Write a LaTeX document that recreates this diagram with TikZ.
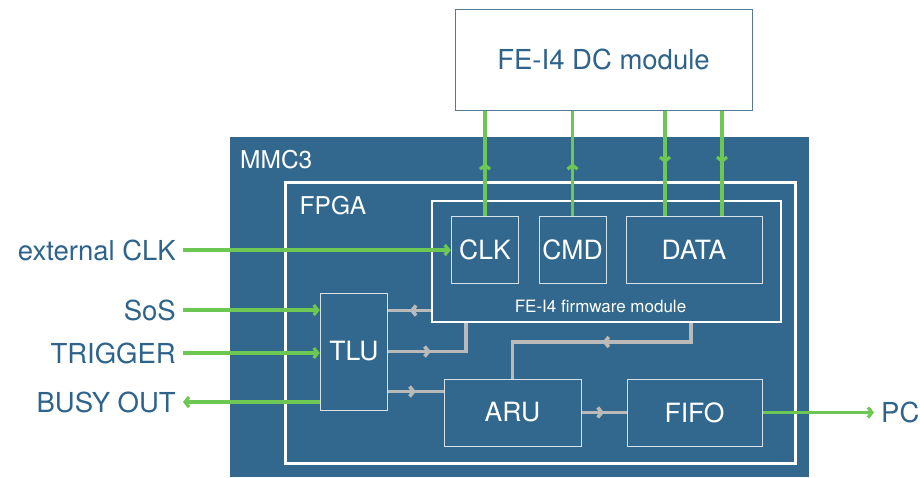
\documentclass[tikz,border=0pt]{standalone}
\usepackage{fontspec}
\setmainfont{TeX Gyre Heros}
\usetikzlibrary{arrows.meta,decorations.markings}

\definecolor{mmcblue}{RGB}{50,104,141}
\definecolor{txtblue}{RGB}{46,99,139}
\definecolor{siggreen}{RGB}{108,200,82}
\definecolor{busgray}{RGB}{186,186,186}
\definecolor{dcframe}{RGB}{84,122,152}

\tikzset{
  fwblock/.style={draw=white!80!mmcblue, line width=1pt, text=white, inner sep=0pt,
    font=\fontsize{26.5}{30}\selectfont},
  outlabel/.style={text=txtblue, inner xsep=7pt, inner ysep=0pt,
    font=\fontsize{27.5}{30}\selectfont},
  greenline/.style={draw=siggreen, line width=3.2pt},
  grayline/.style={draw=busgray, line width=3.6pt},
  midarr/.style={postaction={decorate}, decoration={markings,
    mark=at position #1 with {\arrow{>}}}},
  midarr/.default=0.5
}

\begin{document}
\begin{tikzpicture}[x=1pt, y=-1pt, >={Straight Barb[length=4pt,width=10pt]}]
  \useasboundingbox[fill=white] (0,0) rectangle (920,477);

  % boards
  \node (dc) [draw=dcframe, line width=1pt, fill=white, minimum width=297pt, minimum height=101pt,
    text=txtblue, font=\fontsize{27.5}{30}\selectfont] at (603.5,59.5) {FE-I4 DC module};
  \node (mmc) [fill=mmcblue, inner sep=0pt, minimum width=579pt, minimum height=340pt] at (519.5,307) {};
  \node (mmclab) [anchor=west, inner sep=0pt, text=white, font=\fontsize{24.5}{28}\selectfont] at (240,159.5) {MMC3};
  \node (fpga) [draw=white, line width=3pt, inner sep=0pt, minimum width=510pt, minimum height=281pt] at (540,322.5) {};
  \node (fpgalab) [anchor=west, inner sep=0pt, text=white, font=\fontsize{24.5}{28}\selectfont] at (299.5,206) {FPGA};
  \node (fw) [draw=white, line width=1.5pt, inner sep=0pt, minimum width=349pt, minimum height=121pt] at (606.5,261.5) {};
  \node (fwlab) [inner sep=0pt, text=white, font=\fontsize{17}{20}\selectfont] at (600.5,306) {FE-I4 firmware module};

  % blocks
  \node (clk) [fwblock, minimum width=67.5pt, minimum height=67.5pt] at (485,250) {CLK};
  \node (cmd) [fwblock, minimum width=67pt, minimum height=67.5pt] at (572.5,250) {CMD};
  \node (data) [fwblock, minimum width=136pt, minimum height=67.5pt] at (694,250) {DATA};
  \node (tlu) [fwblock, minimum width=67.5pt, minimum height=117pt] at (354,351.5) {TLU};
  \node (aru) [fwblock, minimum width=137pt, minimum height=67pt] at (512.5,412.5) {ARU};
  \node (fifo) [fwblock, minimum width=135pt, minimum height=67pt] at (694.5,412.5) {FIFO};

  % outside signals
  \node (extclk) [outlabel, anchor=east] at (183,250) {external CLK};
  \node (sos) [outlabel, anchor=east] at (183,310) {SoS};
  \node (trig) [outlabel, anchor=east] at (183,353) {TRIGGER};
  \node (busy) [outlabel, anchor=east] at (183,402) {BUSY OUT};
  \node (pc) [outlabel, anchor=west] at (874,412.5) {PC};

  \draw[greenline, ->] (extclk.east) -- (clk.west);
  \draw[greenline, ->] (sos.east) -- (sos.east -| tlu.west);
  \draw[greenline, ->] (trig.east) -- (trig.east -| tlu.west);
  \draw[greenline, ->] (busy.east -| tlu.west) -- (busy.east);
  \draw[greenline, ->] (fifo.east) -- (pc.west);

  % DC module links
  \coordinate (din1) at ([xshift=-29pt]data.north);
  \coordinate (din2) at ([xshift=28pt]data.north);
  \draw[greenline, midarr] (clk.north) -- (clk.north |- dc.south);
  \draw[greenline, midarr] (cmd.north) -- (cmd.north |- dc.south);
  \draw[greenline, midarr] (din1 |- dc.south) -- (din1);
  \draw[greenline, midarr] (din2 |- dc.south) -- (din2);

  % internal buses
  \coordinate (t1) at ([yshift=41pt]tlu.east);
  \coordinate (t3) at ([yshift=-40pt]tlu.east);
  \coordinate (c2) at (466,352);
  \coordinate (c4) at (691,342);
  \draw[grayline, midarr] (fw.west |- t1) -- (t1);
  \draw[grayline, midarr=0.4] (tlu.east) -| (c2 |- fw.south);
  \draw[grayline, midarr] (t3) -- (aru.west |- t3);
  \draw[grayline, midarr=0.46] (c4 |- fw.south) |- (aru.north |- c4) -- (aru.north);
  \draw[grayline, midarr] (aru.east) -- (fifo.west);
\end{tikzpicture}
\end{document}
